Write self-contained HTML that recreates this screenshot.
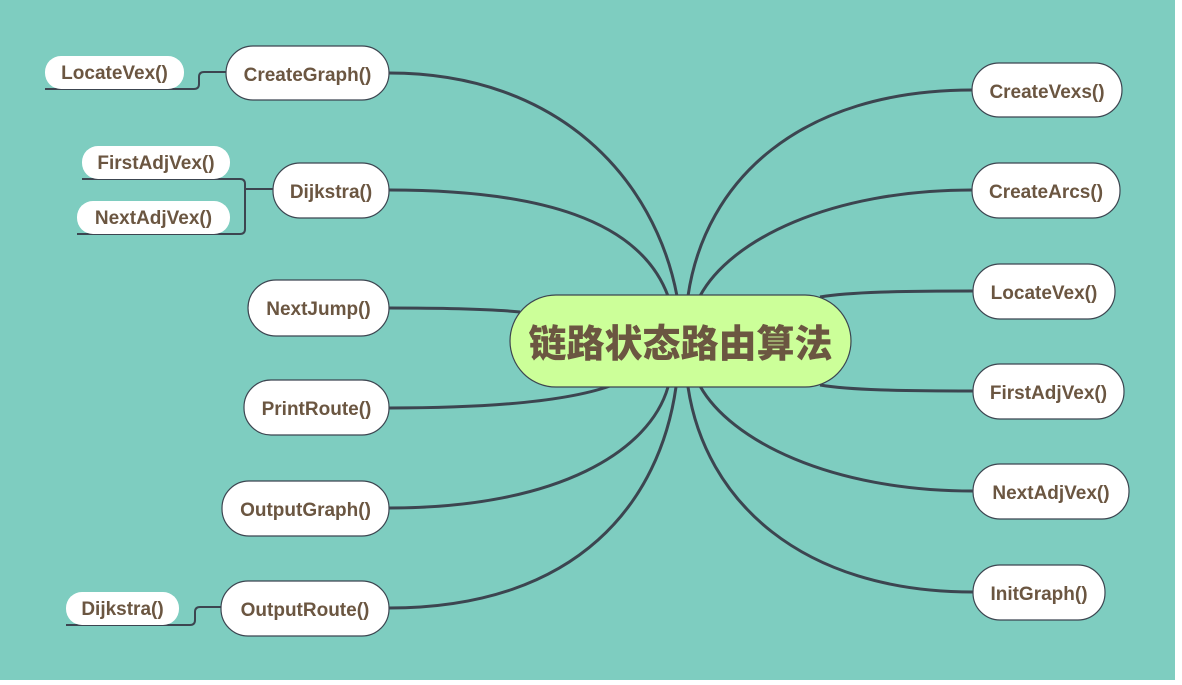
<!DOCTYPE html>
<html><head><meta charset="utf-8"><style>
body{margin:0;width:1182px;height:685px;background:#fff;overflow:hidden}
svg{display:block}
text{font-family:"Liberation Sans","DejaVu Sans",sans-serif;font-weight:bold;fill:#6b5641}
</style></head><body>
<svg width="1182" height="685" viewBox="0 0 1182 685">
<rect x="0" y="0" width="1175" height="680" fill="#7ecdc0"/>
<g fill="none" stroke="#3c4550" stroke-width="3">
<path d="M389,73 C560,73 655,180 677,296"/>
<path d="M389,190 C540,190 640,220 668,296"/>
<path d="M389,308 C450,308 490,309 520,312"/>
<path d="M389,408 C500,408 570,400 610,386"/>
<path d="M389,508 C560,508 650,450 668,387"/>
<path d="M389,608 C580,608 660,500 676,387"/>
<path d="M972,90 C800,90 705,180 688,296"/>
<path d="M972,190 C830,190 730,240 700,296"/>
<path d="M973,291 C900,291 850,292 820,297"/>
<path d="M973,391 C900,391 850,390 820,385"/>
<path d="M973,491 C830,491 730,440 700,386"/>
<path d="M973,592 C800,592 705,500 688,387"/>
</g>
<g fill="none" stroke="#3c4550" stroke-width="2">
<path d="M45,89 H194 Q199,89 199,84 V77 Q199,72 204,72 H226"/>
<path d="M82,179 H240 Q245,179 245,184 V229 Q245,234 240,234 H77"/>
<path d="M245,189 H273"/>
<path d="M66,625 H190 Q195,625 195,620 V612 Q195,607 200,607 H221"/>
</g>
<g fill="#fff" stroke="#3c4550" stroke-width="1.2">
<rect x="226" y="46" width="163" height="54" rx="27"/>
<rect x="273" y="163" width="116" height="55" rx="27"/>
<rect x="248" y="280" width="141" height="56" rx="28"/>
<rect x="244" y="380" width="145" height="55" rx="27"/>
<rect x="222" y="481" width="167" height="55" rx="27"/>
<rect x="221" y="581" width="168" height="55" rx="27"/>
<rect x="972" y="63" width="150" height="54" rx="27"/>
<rect x="972" y="163" width="148" height="55" rx="27"/>
<rect x="973" y="264" width="142" height="55" rx="27"/>
<rect x="973" y="364" width="151" height="55" rx="27"/>
<rect x="973" y="464" width="156" height="55" rx="27"/>
<rect x="973" y="565" width="132" height="55" rx="27"/>
</g>
<g fill="#fff">
<rect x="45" y="56" width="139" height="33" rx="16"/>
<rect x="82" y="146" width="148" height="33" rx="16"/>
<rect x="77" y="201" width="153" height="33" rx="16"/>
<rect x="66" y="592" width="113" height="33" rx="16"/>
</g>
<rect x="510" y="295" width="341" height="92" rx="46" fill="#ccff99" stroke="#3c4550" stroke-width="1.2"/>
<text x="680.5" y="357" font-size="38" text-anchor="middle" style="font-family:'Noto Sans CJK SC',sans-serif;font-weight:900">链路状态路由算法</text>
<g font-size="19" text-anchor="middle">
<text x="307.5" y="81">CreateGraph()</text>
<text x="331" y="198">Dijkstra()</text>
<text x="318.5" y="315">NextJump()</text>
<text x="316.5" y="415">PrintRoute()</text>
<text x="305.5" y="516">OutputGraph()</text>
<text x="305" y="616">OutputRoute()</text>
<text x="1047" y="98">CreateVexs()</text>
<text x="1046" y="198">CreateArcs()</text>
<text x="1044" y="299">LocateVex()</text>
<text x="1048.5" y="399">FirstAdjVex()</text>
<text x="1051" y="499">NextAdjVex()</text>
<text x="1039" y="600">InitGraph()</text>
<text x="114.5" y="79">LocateVex()</text>
<text x="156" y="169">FirstAdjVex()</text>
<text x="153.5" y="224">NextAdjVex()</text>
<text x="122.5" y="615">Dijkstra()</text>
</g>
</svg>
</body></html>
